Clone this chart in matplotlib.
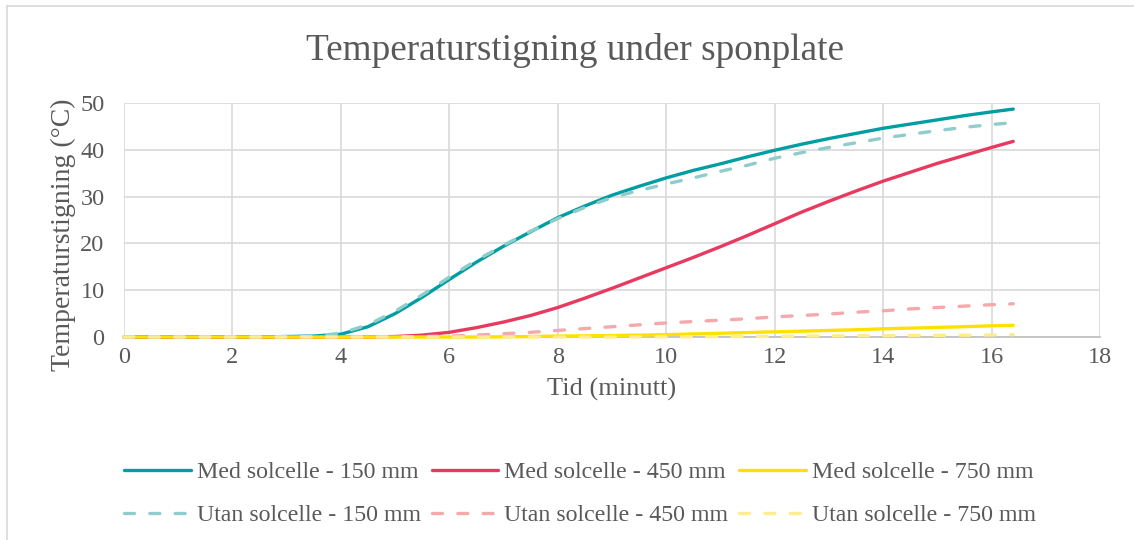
import matplotlib
matplotlib.use("Agg")
import matplotlib.pyplot as plt
from matplotlib.lines import Line2D

# Time in minutes
minutes = [0, 0.5, 1, 1.5, 2, 2.5, 3, 3.5, 4, 4.5, 5, 5.5, 6, 6.5, 7, 7.5, 8,
           8.5, 9, 9.5, 10, 10.5, 11, 11.5, 12, 12.5, 13, 13.5, 14, 14.5, 15,
           15.5, 16, 16.4]

# Temperature rise (°C) with solar cell
med_150 = [0, 0, 0, 0, 0, 0, 0.1, 0.2, 0.6, 2.2, 5.0, 8.5, 12.3, 16.0, 19.4,
           22.5, 25.5, 28.0, 30.3, 32.2, 34.0, 35.6, 37.0, 38.5, 39.9, 41.2,
           42.4, 43.5, 44.6, 45.5, 46.4, 47.3, 48.1, 48.7]
med_450 = [0, 0, 0, 0, 0, 0, 0, 0, 0, 0, 0.1, 0.4, 1.0, 2.0, 3.2, 4.6, 6.3,
           8.3, 10.4, 12.6, 14.8, 17.0, 19.3, 21.7, 24.2, 26.7, 29.0, 31.2,
           33.3, 35.2, 37.1, 38.8, 40.5, 41.8]
med_750 = [0, 0, 0, 0, 0, 0, 0, 0, 0, 0, 0, 0, 0, 0, 0.05, 0.1, 0.2, 0.25,
           0.3, 0.4, 0.5, 0.65, 0.8, 0.95, 1.1, 1.25, 1.4, 1.55, 1.75, 1.9,
           2.05, 2.2, 2.4, 2.5]

# Temperature rise (°C) without solar cell
utan_150 = [0, 0, 0, 0, 0, 0, 0.1, 0.2, 0.8, 2.6, 5.5, 9.0, 12.8, 16.4, 19.6,
            22.6, 25.3, 27.7, 29.8, 31.3, 32.7, 34.0, 35.4, 36.7, 38.2, 39.4,
            40.5, 41.5, 42.5, 43.3, 44.1, 44.8, 45.4, 45.8]
utan_450 = [0, 0, 0, 0, 0, 0, 0, 0, 0, 0, 0, 0.1, 0.2, 0.4, 0.7, 1.0, 1.4,
            1.8, 2.2, 2.6, 3.0, 3.3, 3.6, 3.9, 4.3, 4.6, 4.9, 5.3, 5.6, 6.0,
            6.3, 6.6, 6.9, 7.1]
utan_750 = [0, 0, 0, 0, 0, 0, 0, 0, 0, 0, 0, 0, 0, 0, 0, 0, 0, 0, 0, 0.02,
            0.05, 0.08, 0.1, 0.12, 0.15, 0.2, 0.25, 0.28, 0.3, 0.33, 0.35,
            0.4, 0.45, 0.5]

labels = ["Med solcelle - 150 mm", "Med solcelle - 450 mm", "Med solcelle - 750 mm",
          "Utan solcelle - 150 mm", "Utan solcelle - 450 mm", "Utan solcelle - 750 mm"]
series = [med_150, med_450, med_750, utan_150, utan_450, utan_750]
colors = ["#009EA3", "#E8395E", "#FFE100", "#8FCDCA", "#F5A9AB", "#FFEC8E"]
styles = ["solid", "solid", "solid", "dashed", "dashed", "dashed"]

x_ticks = [0, 2, 4, 6, 8, 10, 12, 14, 16, 18]
y_ticks = [0, 10, 20, 30, 40, 50]

text_color = "#595959"
grid_color = "#D9D9D9"
serif = ["Liberation Serif", "DejaVu Serif"]
plt.rcParams["font.family"] = serif

fig = plt.figure(figsize=(11.34, 5.4), dpi=100)
W, H = 1134, 540

# Chart frame
fig.add_artist(Line2D([7 / W, 7 / W], [0, 1 - 6 / H], color=grid_color, lw=1.2,
                      transform=fig.transFigure))
fig.add_artist(Line2D([7 / W, 1], [1 - 6 / H, 1 - 6 / H], color=grid_color, lw=1.2,
                      transform=fig.transFigure))

ax = fig.add_axes([124 / W, 1 - 337 / H, (1100 - 124) / W, (337 - 103) / H])

lw = 2.4
handles = []
for vals, lab, col, ls in zip(series, labels, colors, styles):
    line, = ax.plot(minutes, vals, color=col, lw=lw, label=lab, clip_on=False,
                    solid_capstyle="round", dash_capstyle="round", zorder=3)
    if ls == "dashed":
        line.set_linestyle((0, (3.0, 4.6)))
    handles.append(line)

ax.set_xlim(0, 18)
ax.set_ylim(0, 50)
ax.set_xticks(x_ticks)
ax.set_yticks(y_ticks)
ax.grid(True, color=grid_color, lw=1.2, zorder=0)
ax.set_axisbelow(True)
for side in ["top", "right", "left"]:
    ax.spines[side].set_visible(False)
ax.spines["bottom"].set_color("#BFBFBF")
ax.spines["bottom"].set_linewidth(1.2)
ax.tick_params(axis="both", length=0, labelsize=17.5, labelcolor=text_color)
ax.tick_params(axis="y", pad=14)
ax.tick_params(axis="x", pad=7)

ax.set_xlabel("Tid (minutt)", fontsize=19, color=text_color, labelpad=7)
fig.text(63 / W, 1 - 235 / H, "Temperaturstigning (°C)", fontsize=20,
         color=text_color, rotation=90, ha="center", va="center")
fig.text(575 / W, 1 - 51 / H, "Temperaturstigning under sponplate", fontsize=26.8,
         color=text_color, ha="center", va="center")

# Legend entries laid out row by row (matplotlib fills columns first)
order = [0, 3, 1, 4, 2, 5]
leg = fig.legend(handles=[handles[i] for i in order],
                 labels=[labels[i] for i in order], loc="center",
                 bbox_to_anchor=(580 / W, 1 - 494 / H), ncol=3, frameon=False,
                 fontsize=17.2, handlelength=2.8, handletextpad=0.25,
                 columnspacing=0.46, labelspacing=0.9)
for t in leg.get_texts():
    t.set_color(text_color)

fig.savefig("out.png", dpi=100)
